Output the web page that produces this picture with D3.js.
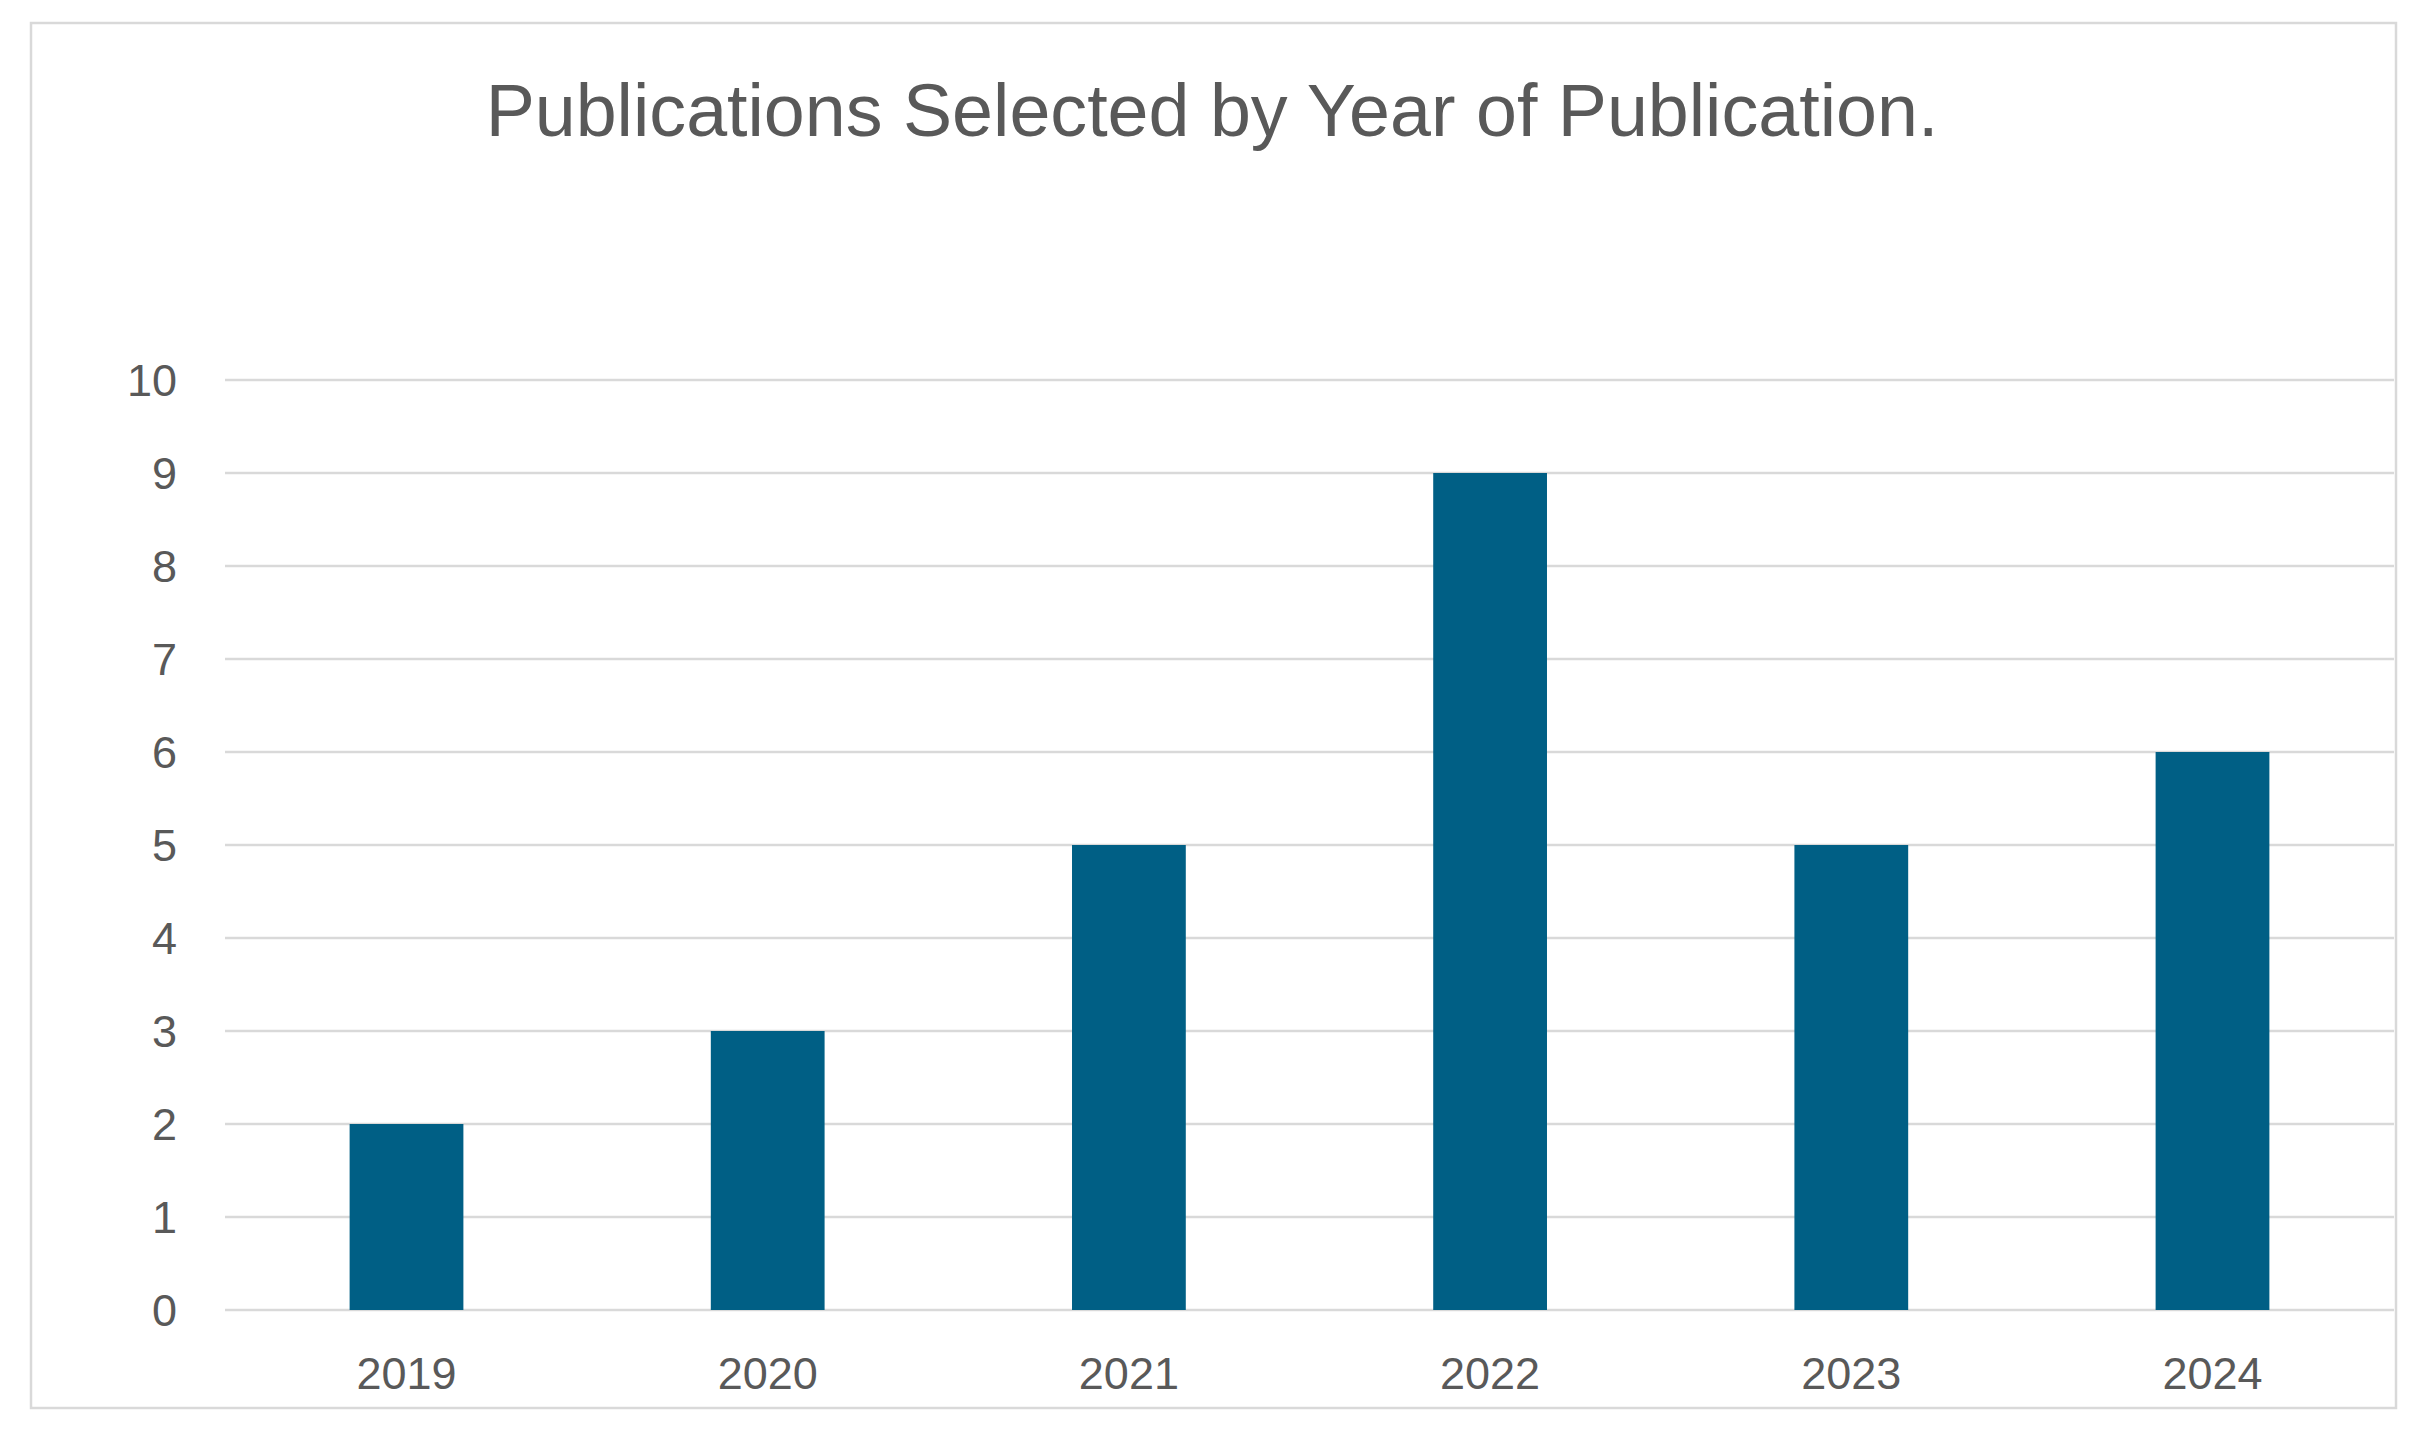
<!DOCTYPE html>
<html lang="en">
<head>
<meta charset="utf-8" />
<title>Publications Selected by Year of Publication</title>
<script src="https://d3js.org/d3.v7.min.js"></script>
<style>
  body { margin: 0; background: #ffffff; font-family: "Liberation Sans", Arial, sans-serif; }
  svg  { display: block; }
  .grid line { stroke: #d9d9d9; stroke-width: 2.5px; }
  .tick-label { fill: #595959; font-size: 45px; }
  .title { fill: #595959; font-size: 64px; }
</style>
</head>
<body>
<svg id="chart" width="2419" height="1433"></svg>
<script>
// data
const years  = ["2019", "2020", "2021", "2022", "2023", "2024"];
const counts = [2, 3, 5, 9, 5, 6];
const yTicks = [0, 1, 2, 3, 4, 5, 6, 7, 8, 9, 10];

const svg = d3.select("#chart");

// chart frame
svg.append("rect")
  .attr("x", 31).attr("y", 23)
  .attr("width", 2365).attr("height", 1385)
  .attr("fill", "#fff")
  .attr("stroke", "#d9d9d9")
  .attr("stroke-width", 2.5);

const plot = { left: 225, right: 2394, top: 380, bottom: 1310 };

const x = d3.scaleBand()
  .domain(years)
  .range([plot.left, plot.right])
  .paddingInner(0.685)
  .paddingOuter(0.345);

const y = d3.scaleLinear()
  .domain([0, 10])
  .range([plot.bottom, plot.top]);

// gridlines
svg.append("g").attr("class", "grid")
  .selectAll("line")
  .data(yTicks)
  .enter().append("line")
    .attr("x1", plot.left).attr("x2", plot.right)
    .attr("y1", d => y(d)).attr("y2", d => y(d));

// y labels
svg.append("g")
  .selectAll("text")
  .data(yTicks)
  .enter().append("text")
    .attr("class", "tick-label")
    .attr("x", 177)
    .attr("y", d => y(d))
    .attr("dy", "0.36em")
    .attr("text-anchor", "end")
    .text(d => d);

// bars
svg.append("g")
  .selectAll("rect")
  .data(years.map((yr, i) => ({ year: yr, value: counts[i] })))
  .enter().append("rect")
    .attr("x", d => x(d.year))
    .attr("width", x.bandwidth())
    .attr("y", d => y(d.value))
    .attr("height", d => y(0) - y(d.value))
    .attr("fill", "#005f85");

// x labels
svg.append("g")
  .selectAll("text")
  .data(years)
  .enter().append("text")
    .attr("class", "tick-label")
    .attr("x", d => x(d) + x.bandwidth() / 2)
    .attr("y", 1389)
    .attr("text-anchor", "middle")
    .text(d => d);

// title, sized to span the same width as the original
const title = svg.append("text")
  .attr("class", "title")
  .attr("x", 1212)
  .attr("y", 136)
  .attr("text-anchor", "middle")
  .text("Publications Selected by Year of Publication.");
const w = title.node().getComputedTextLength();
title.style("font-size", (64 * 1453 / w) + "px");
</script>
</body>
</html>
